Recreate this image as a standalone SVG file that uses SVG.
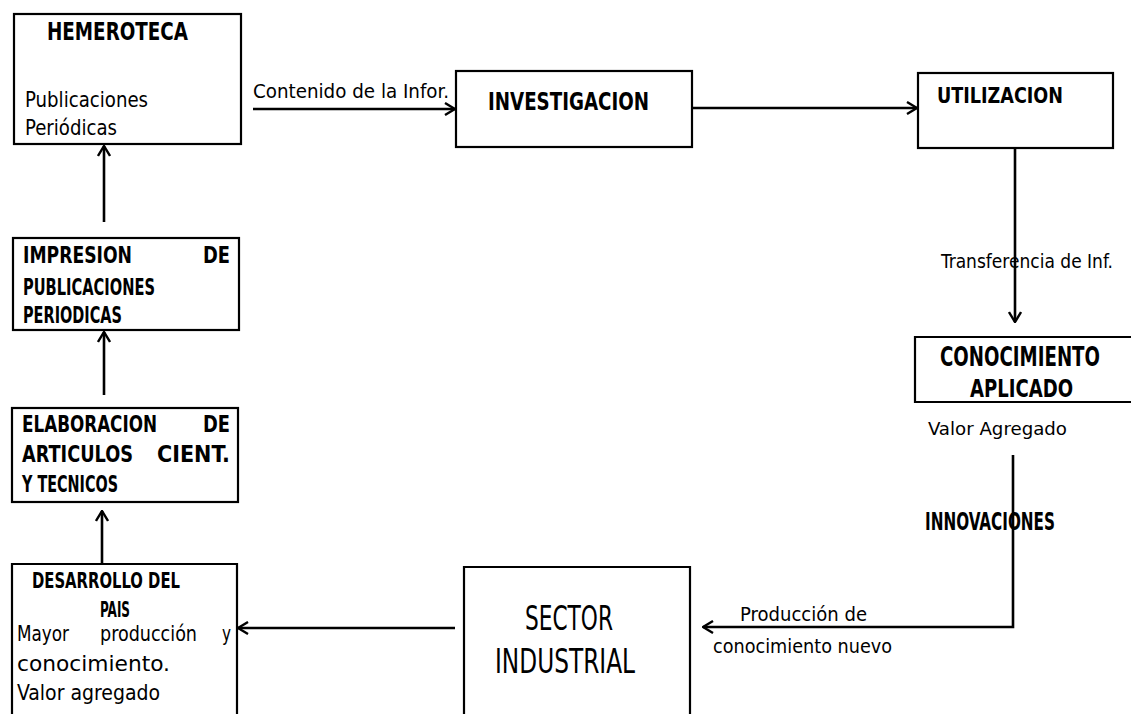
<svg xmlns="http://www.w3.org/2000/svg" width="1133" height="715" viewBox="0 0 1133 715">
<style>
.box{fill:#fff;stroke:#000;stroke-width:2.2}
.t{font-family:"DejaVu Sans Condensed","DejaVu Sans","Liberation Sans",sans-serif;fill:#000}
.b{font-weight:bold}
.c{stroke:#000;stroke-width:2.6;fill:none}
</style>
<defs>
<marker id="ah" viewBox="0 0 12 14" refX="11" refY="7" markerWidth="12" markerHeight="14" markerUnits="userSpaceOnUse" orient="auto">
<path d="M1,1 L11,7 L1,13" fill="none" stroke="#000" stroke-width="2.4"/>
</marker>
</defs>
<rect width="1133" height="715" fill="#fff"/>
<g id="connectors">
<line class="c" x1="104" y1="222" x2="104" y2="146" marker-end="url(#ah)"/>
<line class="c" x1="104" y1="395" x2="104" y2="332" marker-end="url(#ah)"/>
<line class="c" x1="102" y1="567" x2="102" y2="511" marker-end="url(#ah)"/>
<line class="c" x1="253" y1="109" x2="455" y2="109" marker-end="url(#ah)"/>
<line class="c" x1="692" y1="108" x2="917" y2="108" marker-end="url(#ah)"/>
<line class="c" x1="1015" y1="148" x2="1015" y2="322" marker-end="url(#ah)"/>
<polyline class="c" points="1013,455 1013,627 703,627" marker-end="url(#ah)"/>
<line class="c" x1="455" y1="628" x2="238" y2="628" marker-end="url(#ah)"/>
<text class="t" x="253" y="98" font-size="20" textLength="196" lengthAdjust="spacingAndGlyphs">Contenido de la Infor.</text>
<text class="t" x="941" y="268" font-size="19" textLength="172" lengthAdjust="spacingAndGlyphs">Transferencia de Inf.</text>
<text class="t b" x="925" y="530" font-size="24" textLength="130" lengthAdjust="spacingAndGlyphs">INNOVACIONES</text>
<text class="t" x="740" y="621" font-size="20" textLength="127" lengthAdjust="spacingAndGlyphs">Producción de</text>
<text class="t" x="713" y="653" font-size="20" textLength="179" lengthAdjust="spacingAndGlyphs">conocimiento nuevo</text>
</g>
<g id="hemeroteca">
<rect class="box" x="14" y="14" width="227" height="130"/>
<text class="t b" x="47" y="40" font-size="25" textLength="141" lengthAdjust="spacingAndGlyphs">HEMEROTECA</text>
<text class="t" x="25" y="107" font-size="21" textLength="123" lengthAdjust="spacingAndGlyphs">Publicaciones</text>
<text class="t" x="25" y="135" font-size="21" textLength="92" lengthAdjust="spacingAndGlyphs">Periódicas</text>
</g>
<g id="investigacion">
<rect class="box" x="456" y="71" width="236" height="76"/>
<text class="t b" x="488" y="110" font-size="24" textLength="161" lengthAdjust="spacingAndGlyphs">INVESTIGACION</text>
</g>
<g id="utilizacion">
<rect class="box" x="918" y="73" width="195" height="75"/>
<text class="t b" x="937" y="103" font-size="22" textLength="126" lengthAdjust="spacingAndGlyphs">UTILIZACION</text>
</g>
<g id="conocimiento">
<path class="box" d="M1131,337 H915 V402 H1131" fill="none"/>
<text class="t b" transform="translate(940,366) scale(1,1.3)" x="0" y="0" font-size="20" textLength="160" lengthAdjust="spacingAndGlyphs">CONOCIMIENTO</text>
<text class="t b" transform="translate(970,397) scale(1,1.2)" x="0" y="0" font-size="20" textLength="103" lengthAdjust="spacingAndGlyphs">APLICADO</text>
<text class="t" x="928" y="435" font-size="18" textLength="139" lengthAdjust="spacingAndGlyphs">Valor Agregado</text>
</g>
<g id="impresion">
<rect class="box" x="13" y="238" width="226" height="92"/>
<text class="t b" font-size="23"><tspan x="23" y="263" textLength="109" lengthAdjust="spacingAndGlyphs">IMPRESION</tspan><tspan x="203" y="263" textLength="27" lengthAdjust="spacingAndGlyphs">DE</tspan></text>
<text class="t b" x="23" y="295" font-size="23" textLength="132" lengthAdjust="spacingAndGlyphs">PUBLICACIONES</text>
<text class="t b" x="23" y="323" font-size="23" textLength="99" lengthAdjust="spacingAndGlyphs">PERIODICAS</text>
</g>
<g id="elaboracion">
<rect class="box" x="12" y="408" width="226" height="94"/>
<text class="t b" font-size="23"><tspan x="22" y="432" textLength="135" lengthAdjust="spacingAndGlyphs">ELABORACION</tspan><tspan x="203" y="432" textLength="27" lengthAdjust="spacingAndGlyphs">DE</tspan></text>
<text class="t b" font-size="23"><tspan x="22" y="462" textLength="111" lengthAdjust="spacingAndGlyphs">ARTICULOS</tspan><tspan x="157" y="462" textLength="73" lengthAdjust="spacingAndGlyphs">CIENT.</tspan></text>
<text class="t b" x="22" y="492" font-size="23" textLength="96" lengthAdjust="spacingAndGlyphs">Y TECNICOS</text>
</g>
<g id="desarrollo">
<path class="box" d="M12,714 V564 H237 V714" fill="none"/>
<text class="t b" x="32" y="588" font-size="22" textLength="148" lengthAdjust="spacingAndGlyphs">DESARROLLO DEL</text>
<text class="t b" x="100" y="617" font-size="22" textLength="30" lengthAdjust="spacingAndGlyphs">PAIS</text>
<text class="t" font-size="21"><tspan x="17" y="641" textLength="52" lengthAdjust="spacingAndGlyphs">Mayor</tspan><tspan x="100" y="641" textLength="97" lengthAdjust="spacingAndGlyphs">producción</tspan><tspan x="222" y="641" textLength="9" lengthAdjust="spacingAndGlyphs">y</tspan></text>
<text class="t" x="17" y="671" font-size="21" textLength="153" lengthAdjust="spacingAndGlyphs">conocimiento.</text>
<text class="t" x="17" y="700" font-size="21" textLength="143" lengthAdjust="spacingAndGlyphs">Valor agregado</text>
</g>
<g id="sector">
<path class="box" d="M464,714 V567 H690 V714" fill="none"/>
<text class="t" x="525" y="630" font-size="34" textLength="88" lengthAdjust="spacingAndGlyphs">SECTOR</text>
<text class="t" x="495" y="673" font-size="34" textLength="140" lengthAdjust="spacingAndGlyphs">INDUSTRIAL</text>
</g>
</svg>
